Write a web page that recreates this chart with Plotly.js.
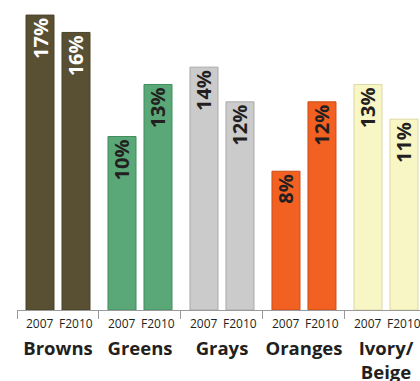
<!DOCTYPE html>
<html>
<head>
<meta charset="utf-8">
<script src="https://cdn.plot.ly/plotly-3.0.1.min.js"></script>
<style>html,body{margin:0;padding:0;background:#fff;}#chart{width:420px;height:381px;}</style>
</head>
<body>
<div id="chart"></div>
<script>
var groups = ['Browns', 'Greens', 'Grays', 'Oranges', 'Ivory/<br>Beige'];
var years = ['2007', 'F2010'];
var values2007 = [17, 10, 14, 8, 13];
var valuesF2010 = [16, 13, 12, 12, 11];
var fillColors = ['#595034', '#5aa877', '#cbcbcb', '#f26122', '#f9f6c6'];
var edgeColors = ['#4a4228', '#3f8c5c', '#a9a9a9', '#c94d17', '#dcd8a2'];
var textColors = ['#ffffff', '#231f20', '#231f20', '#231f20', '#231f20'];

function makeTrace(vals, name) {
  return {
    type: 'bar', name: name, x: groups, y: vals,
    text: vals.map(function (v) { return v + '%'; }),
    textposition: 'inside', insidetextanchor: 'end', textangle: -90,
    constraintext: 'none', cliponaxis: false,
    textfont: { family: 'Open Sans', size: 20, weight: 700, color: textColors },
    marker: { color: fillColors, line: { color: edgeColors, width: 1 } },
    hoverinfo: 'none'
  };
}

var annotations = [];
groups.forEach(function (g) {
  years.forEach(function (yr, j) {
    annotations.push({
      x: g, y: 0, xref: 'x', yref: 'paper', yanchor: 'top', yshift: -3,
      xshift: j === 0 ? -18 : 18, text: yr, showarrow: false,
      font: { family: 'Open Sans', size: 12, color: '#231f20' }
    });
  });
});

var layout = {
  width: 420, height: 381,
  margin: { l: 17, r: 0, t: 0, b: 71 },
  paper_bgcolor: '#ffffff', plot_bgcolor: '#ffffff',
  showlegend: false,
  barmode: 'group', bargap: 0.122, bargroupgap: 0.222,
  xaxis: {
    type: 'category', range: [-0.5, 4.415], fixedrange: true,
    showline: true, linecolor: '#9a9a9a', linewidth: 1,
    ticks: 'outside', tickson: 'boundaries', ticklen: 8, tickcolor: '#9a9a9a', tickwidth: 1,
    ticklabelstandoff: 22, tickangle: 0,
    tickfont: { family: 'Open Sans', size: 18.5, weight: 700, color: '#231f20' },
    showgrid: false, zeroline: false
  },
  yaxis: { range: [0, 17.87], visible: false, showgrid: false, zeroline: false, fixedrange: true },
  annotations: annotations
};

Plotly.newPlot('chart', [makeTrace(values2007, '2007'), makeTrace(valuesF2010, 'F2010')], layout, { displayModeBar: false, staticPlot: true });
</script>
</body>
</html>
